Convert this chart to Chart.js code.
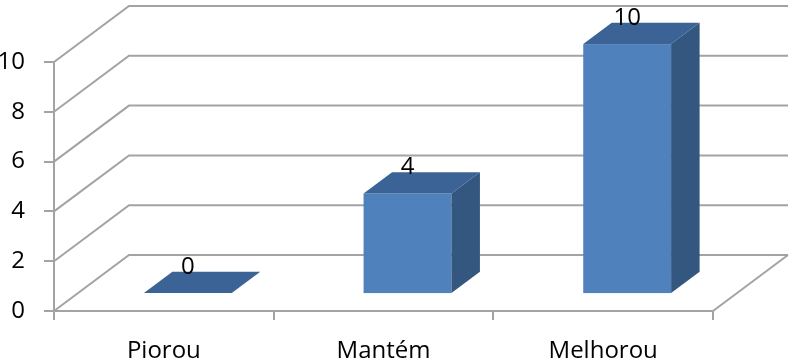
<!DOCTYPE html>
<html>
<head>
<meta charset="utf-8">
<script src="https://cdn.jsdelivr.net/npm/chart.js@4.4.1/dist/chart.umd.min.js"></script>
<style>
  html, body { margin: 0; padding: 0; background: #fff; }
  #wrap { width: 792px; height: 364px; }
</style>
</head>
<body>
<div id="wrap"><canvas id="chart" width="792" height="364"></canvas></div>
<script>
// ---------- Data ----------
const categories = ["Piorou", "Mantém", "Melhorou"];
const values = [0, 4, 10];
const yTicks = [0, 2, 4, 6, 8, 10];

// ---------- 3D look ----------
const DEPTH_X = 75;   // wall depth offset
const DEPTH_Y = -56;
const BAR_FRONT = 0.32; // where bars sit inside the depth
const BAR_BACK = 0.70;
const GRID = "#a3a3a3";
const FONT = "'Open Sans', sans-serif";
const FONT_SIZE = 24;

const walls3d = {
  id: "walls3d",
  beforeDatasetsDraw(chart) {
    const { ctx, chartArea, scales } = chart;
    const y = scales.y;
    ctx.save();
    ctx.strokeStyle = GRID;
    ctx.lineWidth = 2;
    yTicks.forEach(v => {
      const py = y.getPixelForValue(v);
      ctx.beginPath();
      ctx.moveTo(chartArea.left, py);
      ctx.lineTo(chartArea.left + DEPTH_X, py + DEPTH_Y);
      ctx.lineTo(chartArea.right + DEPTH_X, py + DEPTH_Y);
      ctx.stroke();
    });
    // right edge of floor
    const p0 = y.getPixelForValue(0);
    ctx.beginPath();
    ctx.moveTo(chartArea.right, p0);
    ctx.lineTo(chartArea.right + DEPTH_X, p0 + DEPTH_Y);
    ctx.stroke();
    ctx.restore();
  },
  afterDatasetsDraw(chart) {
    const { ctx, scales } = chart;
    const meta = chart.getDatasetMeta(0);
    const fx = DEPTH_X * BAR_FRONT, fy = DEPTH_Y * BAR_FRONT;
    const dx = DEPTH_X * (BAR_BACK - BAR_FRONT), dy = DEPTH_Y * (BAR_BACK - BAR_FRONT);
    const base = scales.y.getPixelForValue(0) + fy;
    ctx.save();
    meta.data.forEach((el, i) => {
      const l = el.x - el.width / 2 + fx;
      const r = el.x + el.width / 2 + fx;
      const t = el.y + fy;
      // front
      ctx.fillStyle = "#4f81bd";
      ctx.fillRect(l, t, r - l, base - t);
      // side
      ctx.fillStyle = "#34577f";
      ctx.beginPath();
      ctx.moveTo(r, t); ctx.lineTo(r + dx, t + dy);
      ctx.lineTo(r + dx, base + dy); ctx.lineTo(r, base);
      ctx.closePath(); ctx.fill();
      // top
      ctx.fillStyle = "#3c6395";
      ctx.beginPath();
      ctx.moveTo(l, t); ctx.lineTo(r, t);
      ctx.lineTo(r + dx, t + dy); ctx.lineTo(l + dx, t + dy);
      ctx.closePath(); ctx.fill();
      // value label
      ctx.fillStyle = "#000";
      ctx.font = FONT_SIZE + "px " + FONT;
      ctx.textAlign = "center";
      ctx.textBaseline = "alphabetic";
      ctx.fillText(String(values[i]), (l + r) / 2, t + dy + 2);
    });
    ctx.restore();
  }
};

new Chart(document.getElementById("chart"), {
  type: "bar",
  data: {
    labels: categories,
    datasets: [{
      data: values,
      backgroundColor: "rgba(0,0,0,0)",
      borderWidth: 0,
      categoryPercentage: 1,
      barPercentage: 0.4
    }]
  },
  options: {
    responsive: false,
    animation: false,
    layout: { padding: { top: 62, right: 79, left: 0, bottom: 0 } },
    plugins: { legend: { display: false }, tooltip: { enabled: false } },
    scales: {
      x: {
        afterFit: s => { s.height = 53; },
        grid: { offset: true, drawOnChartArea: false, drawTicks: true, tickLength: 9, color: GRID, lineWidth: 2 },
        border: { color: GRID, width: 2 },
        ticks: { color: "#000", font: { family: FONT, size: FONT_SIZE }, padding: 17 }
      },
      y: {
        min: 0, max: 10,
        afterFit: s => { s.width = 54; },
        afterBuildTicks: s => { s.ticks = yTicks.map(v => ({ value: v })); },
        grid: { drawOnChartArea: false, drawTicks: true, tickLength: 10, color: GRID, lineWidth: 2 },
        border: { color: GRID, width: 2 },
        ticks: { color: "#000", font: { family: FONT, size: FONT_SIZE }, padding: 19 }
      }
    }
  },
  plugins: [walls3d]
});
</script>
</body>
</html>
